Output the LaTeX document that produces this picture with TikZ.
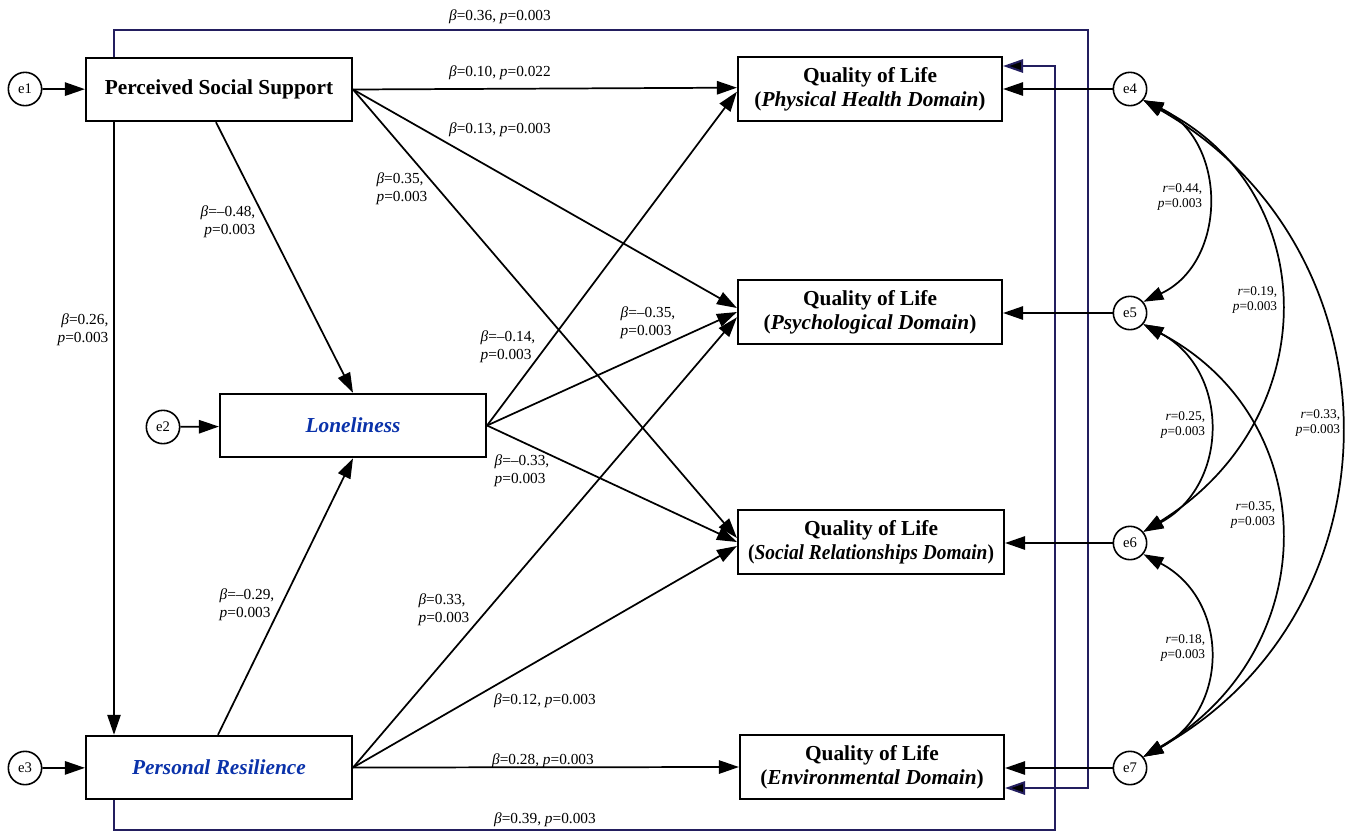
\documentclass[tikz,border=0pt]{standalone}
\usepackage{fontspec}
\setmainfont{Liberation Serif}
\usetikzlibrary{arrows.meta,calc}
\definecolor{navy}{RGB}{35,30,95}
\definecolor{lblue}{RGB}{10,50,170}
\newcommand\Bt{{\itshape β}}
\newcommand\Pv{{\itshape p}}
\newcommand\Rr{{\itshape r}}
\begin{document}
\begin{tikzpicture}[x=0.75pt,y=-0.75pt,
  box/.style={draw,line width=1.6pt,minimum width=199.5pt,minimum height=47.5pt,inner sep=0pt,align=center,font=\fontsize{16}{18}\selectfont\bfseries},
  err/.style={draw,circle,line width=1.2pt,minimum size=25pt,inner sep=0pt,font=\fontsize{11}{12}\selectfont},
  arr/.style={line width=1.3pt,-{Triangle[length=15pt,width=10pt]}},
  narr/.style={line width=1.5pt,draw=navy,-{Triangle[length=15pt,width=10pt,fill=black]}},
  corr/.style={line width=1.3pt,{Triangle[length=15pt,width=10pt]}-{Triangle[length=15pt,width=10pt]}},
  lbl/.style={font=\fontsize{11.5}{13.5}\selectfont,inner sep=0pt,align=left},
  rlbl/.style={font=\fontsize{10}{11.5}\selectfont,inner sep=0pt,align=right},
]
\useasboundingbox[fill=white] (0,0) rectangle (1352,833);

% nodes
\node[box] (pss) at (219,89.5) {Perceived Social Support};
\node[box,text=lblue] (lon) at (353,425.5) {\itshape Loneliness};
\node[box,text=lblue] (pr) at (219,767.5) {\itshape Personal Resilience};
\node[box,minimum width=198pt,minimum height=48pt] (phys) at (870,89) {Quality of Life\\(\itshape Physical Health Domain\upshape)};
\node[box,minimum width=198pt,minimum height=48pt] (psy) at (870,312) {Quality of Life\\(\itshape Psychological Domain\upshape)};
\node[box,minimum width=199.5pt,minimum height=48pt] (soc) at (871,542) {Quality of Life\\\scalebox{0.91}[1]{(\itshape Social Relationships Domain\upshape)}};
\node[box,minimum width=198pt,minimum height=48pt] (env) at (872,767) {Quality of Life\\(\itshape Environmental Domain\upshape)};

\node[err] (e1) at (25,89) {e1};
\node[err] (e2) at (163,427) {e2};
\node[err] (e3) at (25,768) {e3};
\node[err] (e4) at (1130,89) {e4};
\node[err] (e5) at (1130,313) {e5};
\node[err] (e6) at (1130,543) {e6};
\node[err] (e7) at (1130,768) {e7};

\coordinate (xl) at (114,0);
\coordinate (a1) at (114,30);
\coordinate (a2) at (1088,30);
\coordinate (a3) at (1088,788);
\coordinate (b1) at (114,830);
\coordinate (b2) at (1055,830);
\coordinate (b3) at (1055,66);
\coordinate (xa) at (216,0);
\coordinate (xb) at (218,0);

% navy long paths
\draw[narr] (pss.north -| a1) -- (a1) -- (a2) -- (a3) -- (env.east |- a3);
\draw[narr] (pr.south -| b1) -- (b1) -- (b2) -- (b3) -- (phys.east |- b3);

% error arrows
\draw[arr] (e1) -- (pss);
\draw[arr] (e2) -- (lon);
\draw[arr] (e3) -- (pr);
\draw[arr] (e4) -- (phys.east |- e4);
\draw[arr] (e5) -- (psy.east |- e5);
\draw[arr] (e6) -- (soc.east |- e6);
\draw[arr] (e7) -- (env.east |- e7);

% structural paths
\draw[arr] (pss.south -| xl) -- (pr.north -| xl);
\draw[arr] (pss.south -| xa) -- (lon.north);
\draw[arr] (pr.north -| xb) -- (lon.south);
\draw[arr] (pss.east) -- ([yshift=1pt]phys.west);
\draw[arr] (pss.east) -- ([yshift=3pt]psy.west);
\draw[arr] (pss.east) -- ([yshift=3pt]soc.west);
\draw[arr] (lon.east) -- ([yshift=-2pt]phys.west);
\draw[arr] (lon.east) -- ([yshift=0pt]psy.west);
\draw[arr] (lon.east) -- ([yshift=0pt]soc.west);
\draw[arr] (pr.east) -- ([yshift=-4pt]psy.west);
\draw[arr] (pr.east) -- ([yshift=-3pt]soc.west);
\draw[arr] (pr.east) -- (env.west);

% correlations
\draw[corr] (e4.-40) .. controls (1228,140) and (1228,262) .. (e5.40);
\draw[corr] (e5.-40) .. controls (1230,370) and (1230,485) .. (e6.40);
\draw[corr] (e6.-40) .. controls (1230,600) and (1230,710) .. (e7.40);
\draw[corr] (e4.-40) .. controls (1325,190) and (1325,420) .. (e6.40);
\draw[corr] (e5.-40) .. controls (1325,420) and (1325,650) .. (e7.40);
\draw[corr] (e4.-40) .. controls (1405,250) and (1405,610) .. (e7.40);

% labels
\node[lbl] (l1) at (500,17) {\Bt=0.36, \Pv=0.003};
\node[lbl] (l2) at (500,73) {\Bt=0.10, \Pv=0.022};
\node[lbl] (l3) at (500,130) {\Bt=0.13, \Pv=0.003};
\node[lbl] (l4) at (402,189) {\Bt=0.35,\\\Pv=0.003};
\node[lbl,align=right] (l5) at (228,222) {\Bt=–0.48,\\\Pv=0.003};
\node[lbl,align=right] (l6) at (83,330) {\Bt=0.26,\\\Pv=0.003};
\node[lbl] (l7) at (508,347) {\Bt=–0.14,\\\Pv=0.003};
\node[lbl] (l8) at (648,323) {\Bt=–0.35,\\\Pv=0.003};
\node[lbl] (l9) at (522,471) {\Bt=–0.33,\\\Pv=0.003};
\node[lbl] (l10) at (247,605) {\Bt=–0.29,\\\Pv=0.003};
\node[lbl] (l11) at (444,610) {\Bt=0.33,\\\Pv=0.003};
\node[lbl] (l12) at (545,701) {\Bt=0.12, \Pv=0.003};
\node[lbl] (l13) at (543,761) {\Bt=0.28, \Pv=0.003};
\node[lbl] (l14) at (545,820) {\Bt=0.39, \Pv=0.003};

\node[rlbl] (r1) at (1180,197) {\Rr=0.44,\\\Pv=0.003};
\node[rlbl] (r2) at (1255,300) {\Rr=0.19,\\\Pv=0.003};
\node[rlbl] (r3) at (1183,425) {\Rr=0.25,\\\Pv=0.003};
\node[rlbl] (r4) at (1318,423) {\Rr=0.33,\\\Pv=0.003};
\node[rlbl] (r5) at (1253,515) {\Rr=0.35,\\\Pv=0.003};
\node[rlbl] (r6) at (1183,648) {\Rr=0.18,\\\Pv=0.003};
\end{tikzpicture}
\end{document}
